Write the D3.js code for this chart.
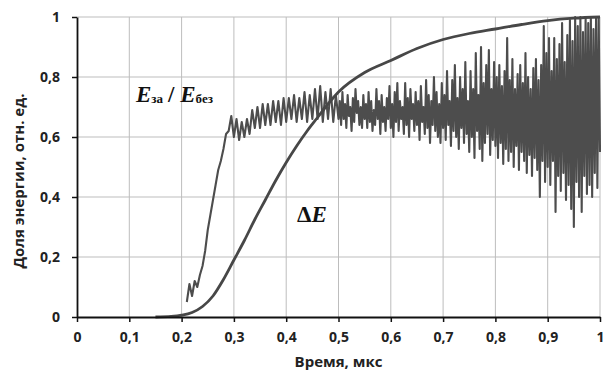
<!DOCTYPE html>
<html>
<head>
<meta charset="utf-8">
<script src="https://cdn.jsdelivr.net/npm/d3@7"></script>
<style>
  body { margin: 0; background: #fff; }
  svg text { font-family: "Open Sans", sans-serif; }
</style>
</head>
<body>
<div id="chart"></div>
<script>
// axis ticks
const xTicks = [0, 0.1, 0.2, 0.3, 0.4, 0.5, 0.6, 0.7, 0.8, 0.9, 1]
const yTicks = [0, 0.2, 0.4, 0.6, 0.8, 1]

// smooth curve: delta E
const deltaTime = [0.15, 0.18, 0.2, 0.22, 0.24, 0.26, 0.28, 0.3, 0.32, 0.34, 0.36, 0.38, 0.4,
  0.42, 0.44, 0.46, 0.48, 0.5, 0.55, 0.6, 0.65, 0.7, 0.75, 0.8, 0.85, 0.9, 0.95, 1.0]
const deltaE = [0, 0.002, 0.006, 0.015, 0.035, 0.07, 0.125, 0.19, 0.255, 0.325, 0.39, 0.455, 0.515,
  0.57, 0.62, 0.665, 0.71, 0.75, 0.815, 0.855, 0.895, 0.925, 0.945, 0.96, 0.975, 0.988, 0.996, 1.0]

// noisy curve E_za / E_bez, early part sampled every 0.005 from 0.21
const ratioEarlyStart = 0.21, ratioEarlyStep = 0.005
const ratioEarly = [0.05, 0.11, 0.07, 0.12, 0.10, 0.14, 0.17, 0.22, 0.29, 0.34,
  0.39, 0.44, 0.49, 0.52, 0.56, 0.61, 0.62, 0.67, 0.60, 0.66,
  0.59, 0.65, 0.60, 0.66, 0.61, 0.69, 0.63, 0.70, 0.63, 0.71,
  0.64, 0.71, 0.64, 0.72, 0.65, 0.72, 0.64, 0.73, 0.65, 0.73,
  0.66, 0.74, 0.65, 0.73, 0.66, 0.75, 0.65, 0.74, 0.66, 0.76,
  0.66, 0.77, 0.65, 0.75, 0.66, 0.76, 0.65, 0.74, 0.66]

// late part sampled every 0.0025 from 0.5025
const ratioLateStart = 0.5025, ratioLateStep = 0.0025
const ratioLate = [
  0.72, 0.64, 0.75, 0.66, 0.71, 0.63, 0.74, 0.67, 0.70, 0.62,
  0.73, 0.65, 0.76, 0.68, 0.72, 0.64, 0.70, 0.63, 0.74, 0.66,
  0.71, 0.63, 0.75, 0.65, 0.72, 0.62, 0.69, 0.64, 0.76, 0.66,
  0.72, 0.61, 0.74, 0.65, 0.70, 0.62, 0.73, 0.66, 0.77, 0.63,
  0.71, 0.60, 0.75, 0.65, 0.78, 0.62, 0.72, 0.66, 0.70, 0.61,
  0.78, 0.64, 0.73, 0.60, 0.76, 0.66, 0.71, 0.62, 0.75, 0.64,
  0.72, 0.59, 0.77, 0.65, 0.70, 0.61, 0.79, 0.63, 0.74, 0.58,
  0.72, 0.64, 0.80, 0.62, 0.75, 0.60, 0.71, 0.58, 0.78, 0.63,
  0.74, 0.59, 0.82, 0.64, 0.72, 0.57, 0.79, 0.62, 0.84, 0.60,
  0.73, 0.56, 0.80, 0.63, 0.76, 0.58, 0.85, 0.61, 0.72, 0.55,
  0.82, 0.60, 0.76, 0.53, 0.88, 0.62, 0.74, 0.56, 0.90, 0.52,
  0.78, 0.58, 0.84, 0.61, 0.89, 0.54, 0.76, 0.59, 0.85, 0.57,
  0.80, 0.53, 0.84, 0.58, 0.77, 0.51, 0.82, 0.56, 0.93, 0.52,
  0.79, 0.55, 0.86, 0.50, 0.76, 0.57, 0.81, 0.49, 0.84, 0.55,
  0.78, 0.52, 0.88, 0.48, 0.80, 0.54, 0.76, 0.47, 0.83, 0.53,
  0.86, 0.49, 0.79, 0.40, 0.84, 0.52, 0.97, 0.45, 0.88, 0.50,
  0.93, 0.44, 0.82, 0.52, 0.93, 0.35, 0.86, 0.47, 0.91, 0.42,
  0.98, 0.48, 0.85, 0.39, 0.94, 0.44, 0.99, 0.36, 0.92, 0.30,
  1.00, 0.45, 0.97, 0.40, 1.00, 0.35, 0.95, 0.47, 1.00, 0.41,
  0.98, 0.44, 1.00, 0.40, 0.96, 0.48, 1.00, 0.43, 1.00, 0.55]

const width = 613, height = 372
const margin = { top: 17, right: 13, bottom: 55, left: 77 }

const svg = d3.select('#chart').append('svg')
  .attr('width', width)
  .attr('height', height)

const x = d3.scaleLinear().domain([0, 1]).range([margin.left, width - margin.right])
const y = d3.scaleLinear().domain([0, 1]).range([height - margin.bottom, margin.top])

const fmt = d => String(+d.toFixed(1)).replace('.', ',')

// grid
svg.append('g').selectAll('line').data(xTicks.slice(1)).join('line')
  .attr('x1', d => x(d)).attr('x2', d => x(d))
  .attr('y1', y(0)).attr('y2', y(1))
  .attr('stroke', '#bdbdbd').attr('stroke-width', 1)
svg.append('g').selectAll('line').data(yTicks.slice(1)).join('line')
  .attr('x1', x(0)).attr('x2', x(1))
  .attr('y1', d => y(d)).attr('y2', d => y(d))
  .attr('stroke', '#bdbdbd').attr('stroke-width', 1)

// build series
const deltaData = deltaTime.map((t, i) => [t, deltaE[i]])
const ratioData = ratioEarly.map((v, i) => [ratioEarlyStart + i * ratioEarlyStep, v])
  .concat(ratioLate.map((v, i) => [ratioLateStart + i * ratioLateStep, v]))

svg.append('path')
  .datum(ratioData)
  .attr('fill', 'none')
  .attr('stroke', '#4d4d4d')
  .attr('stroke-width', 2.1)
  .attr('stroke-linejoin', 'round')
  .attr('d', d3.line().x(d => x(d[0])).y(d => y(d[1])))

svg.append('path')
  .datum(deltaData)
  .attr('fill', 'none')
  .attr('stroke', '#474747')
  .attr('stroke-width', 2.8)
  .attr('d', d3.line().curve(d3.curveMonotoneX).x(d => x(d[0])).y(d => y(d[1])))

// axes
const xAxis = svg.append('g')
  .attr('transform', `translate(0,${y(0)})`)
  .call(d3.axisBottom(x).tickValues(xTicks).tickFormat(fmt).tickSize(5).tickSizeOuter(0).tickPadding(10))
const yAxis = svg.append('g')
  .attr('transform', `translate(${x(0)},0)`)
  .call(d3.axisLeft(y).tickValues(yTicks).tickFormat(fmt).tickSize(5).tickSizeOuter(0).tickPadding(12))

;[xAxis, yAxis].forEach(a => {
  a.select('.domain').attr('stroke', '#111').attr('stroke-width', 1.8)
  a.selectAll('.tick line').attr('stroke', '#111').attr('stroke-width', 1.5)
  a.selectAll('.tick text')
    .style('font-family', '"Open Sans", sans-serif')
    .style('font-size', '14px')
    .style('font-weight', '700')
    .attr('fill', '#222')
})

// axis titles
svg.append('text')
  .attr('x', x(0.5)).attr('y', 367)
  .attr('text-anchor', 'middle')
  .style('font-size', '15px').style('font-weight', '700').attr('fill', '#222')
  .text('Время, мкс')

svg.append('text')
  .attr('transform', `translate(24,181) rotate(-90)`)
  .attr('text-anchor', 'middle')
  .style('font-size', '15px').style('font-weight', '700').attr('fill', '#222')
  .text('Доля энергии, отн. ед.')

// curve labels
const serif = '"Liberation Serif", "Times New Roman", serif'
const lbl = svg.append('text')
  .attr('x', 136).attr('y', 102)
  .style('font-family', serif).style('font-weight', '700').attr('fill', '#111')
lbl.append('tspan').style('font-style', 'italic').style('font-size', '23px').text('E')
lbl.append('tspan').style('font-size', '13px').attr('dy', 1).text('за')
lbl.append('tspan').style('font-size', '23px').attr('dx', 5).attr('dy', -1).text('/ ')
lbl.append('tspan').style('font-style', 'italic').style('font-size', '23px').text('E')
lbl.append('tspan').style('font-size', '13px').attr('dy', 1).text('без')

const dl = svg.append('text')
  .attr('x', 297).attr('y', 222)
  .style('font-family', serif).style('font-weight', '700').attr('fill', '#111')
dl.append('tspan').style('font-size', '23px').text('Δ')
dl.append('tspan').style('font-style', 'italic').style('font-size', '23px').text('E')
</script>
</body>
</html>
